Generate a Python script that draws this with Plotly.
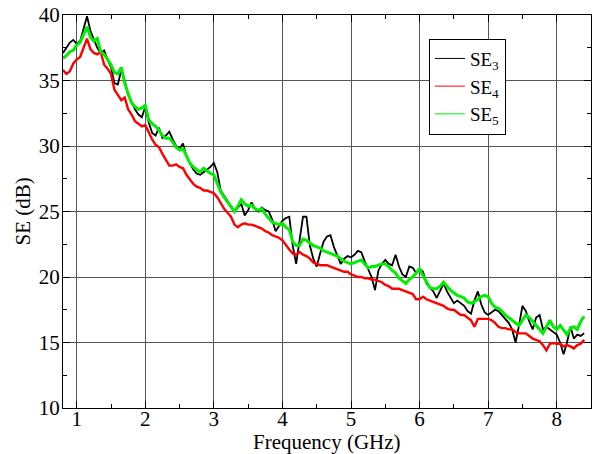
import plotly.graph_objects as go

# Frequency grid (GHz), sampled every 0.05 GHz from 0.80 to 8.40
freq = [round(0.80 + 0.05 * i, 2) for i in range(153)]

se3 = [
    37.1, 37.5, 37.9, 38.1, 37.8, 38.0, 38.9, 39.9, 38.8, 38.2,
    37.5, 37.1, 37.3, 36.6, 36.0, 34.8, 34.7, 35.8, 35.0, 33.9,
    33.3, 32.8, 32.4, 32.2, 33.0, 31.8, 31.0, 30.8, 31.4, 30.6,
    30.8, 31.1, 30.5, 30.0, 29.8, 30.2, 29.2, 28.7, 28.2, 27.9,
    27.8, 28.0, 28.2, 28.4, 28.7, 28.0, 26.6, 26.2, 25.8, 25.4,
    25.0, 25.3, 25.6, 24.7, 25.1, 25.7, 25.2, 25.0, 25.3, 25.1,
    25.0, 24.4, 23.5, 23.9, 24.3, 24.5, 24.6, 22.4, 21.0, 22.8,
    24.6, 24.6, 22.4, 21.4, 20.8, 21.8, 22.7, 23.1, 23.2, 22.3,
    21.6, 21.0, 21.4, 21.6, 21.5, 21.7, 22.0, 21.9, 21.2, 20.6,
    20.0, 19.0, 20.5, 21.0, 21.3, 21.0, 20.9, 21.7, 20.8, 20.2,
    20.0, 20.8, 20.7, 20.3, 20.6, 20.4, 19.5, 19.2, 18.9, 18.4,
    19.0, 19.5, 18.9, 18.5, 18.0, 18.2, 18.0, 17.8, 17.4, 17.2,
    18.2, 18.9, 17.9, 17.3, 17.1, 17.3, 17.5, 17.4, 17.1, 16.8,
    16.5, 16.0, 15.0, 16.3, 17.8, 17.4, 16.6, 16.0, 16.9, 17.1,
    16.0, 16.2, 16.0, 15.8, 15.6, 15.0, 14.1, 15.0, 16.2, 15.3,
    15.6, 15.5, 15.7,
]

se4 = [
    35.8, 35.5, 35.7, 36.3, 36.6, 36.8, 37.5, 38.2, 37.4, 37.1,
    37.0, 37.2, 36.2, 35.9, 35.5, 34.3, 33.9, 33.5, 33.7, 32.8,
    32.4, 31.9, 31.7, 31.5, 31.6, 31.0, 30.5, 30.1, 29.9, 29.4,
    29.0, 28.5, 28.5, 28.6, 28.4, 28.3, 27.8, 27.4, 27.1, 26.9,
    26.8, 26.6, 26.6, 26.5, 26.4, 26.1, 25.6, 25.2, 24.9, 24.6,
    24.0, 23.8, 24.0, 24.1, 24.0, 24.0, 23.9, 23.8, 23.7, 23.5,
    23.4, 23.2, 23.1, 23.0, 22.8, 22.4, 22.1, 21.8, 21.7, 21.9,
    21.7, 21.6, 21.4, 21.1, 21.0, 20.9, 20.9, 20.9, 20.8, 20.7,
    20.6, 20.5, 20.4, 20.4, 20.2, 20.1, 20.0, 20.0, 19.9, 19.9,
    19.8, 19.8, 19.7, 19.6, 19.4, 19.3, 19.1, 19.1, 19.1, 19.0,
    18.9, 18.8, 18.7, 18.3, 18.3, 18.5, 18.3, 18.2, 18.1, 18.0,
    17.9, 17.8, 17.6, 17.5, 17.5, 17.3, 17.1, 17.1, 16.9, 16.7,
    16.2, 16.8, 16.8, 16.8, 16.8, 16.7, 16.5, 16.2, 16.1, 16.1,
    16.0, 16.0, 15.8, 15.7, 15.7, 15.7, 15.5, 15.3, 15.2, 15.1,
    14.8, 14.4, 14.9, 14.95, 14.9, 14.9, 14.7, 14.8, 14.7, 14.55,
    14.8, 14.9, 15.2,
]

se5 = [
    36.7, 36.9, 37.2, 37.3, 37.7, 37.9, 38.5, 39.1, 38.3, 38.0,
    38.2, 37.2, 37.0, 36.6, 36.2, 35.6, 35.5, 36.0, 34.8, 34.0,
    33.3, 33.0, 32.8, 32.9, 33.1, 32.0, 31.7, 31.5, 31.2, 30.8,
    30.6, 30.6, 30.3, 29.9, 29.7, 29.8, 29.2, 28.7, 28.4, 28.2,
    28.0, 28.3, 28.1, 27.9, 27.8, 27.1, 26.5, 26.1, 25.7, 25.4,
    25.0, 25.4, 25.9, 25.6, 25.4, 25.5, 25.2, 25.1, 25.2, 24.8,
    24.5, 24.2, 24.1, 24.0, 24.1, 23.8, 23.6, 22.7, 22.4, 22.4,
    22.9, 22.8, 22.6, 22.4, 22.3, 22.2, 22.0, 21.9, 21.8, 21.7,
    21.6, 21.4, 21.2, 21.1, 21.0, 21.1, 21.2, 21.3, 21.0, 20.7,
    20.8, 20.8, 20.9, 21.0, 21.0, 20.8, 20.5, 20.3, 19.9, 19.7,
    19.5, 19.8, 20.0, 20.3, 20.6, 20.1, 19.7, 19.2, 19.1, 19.1,
    19.3, 19.6, 19.3, 19.0, 18.8, 18.6, 18.5, 18.4, 18.1, 18.0,
    18.1, 18.3, 18.5, 18.6, 18.5, 18.0, 17.7, 17.6, 17.4, 17.1,
    16.9, 16.7, 16.5, 16.3, 16.7, 17.1, 16.9, 16.6, 16.3, 16.0,
    15.7, 16.2, 16.7, 16.2, 16.0, 16.3, 15.9, 15.6, 16.1, 16.2,
    16.0, 16.6, 17.0,
]

series_names = ["SE<sub>3</sub>", "SE<sub>4</sub>", "SE<sub>5</sub>"]
series_values = [se3, se4, se5]
series_colors = ["#000000", "#ff0000", "#00ee00"]
series_widths = [1.8, 2.4, 3]

x_ticks = [1, 2, 3, 4, 5, 6, 7, 8]
y_ticks = [10, 15, 20, 25, 30, 35, 40]

FONT = "Liberation Serif"

fig = go.Figure()
for name, vals, col, w in zip(series_names, series_values, series_colors, series_widths):
    fig.add_trace(go.Scatter(x=freq, y=vals, mode="lines", name=name, showlegend=False,
                             line=dict(color=col, width=w)))
# thin legend-only entries, as in the reference legend
for name, col in zip(series_names, series_colors):
    fig.add_trace(go.Scatter(x=[None], y=[None], mode="lines", name=name, showlegend=True,
                             line=dict(color=col, width=1)))

axis_common = dict(
    showline=True, linecolor="black", linewidth=1, mirror="allticks",
    ticks="inside", ticklen=7, tickcolor="black",
    showgrid=True, gridcolor="#555555", gridwidth=1,
    zeroline=False, automargin=False, ticklabeloverflow="allow",
    tickfont=dict(family=FONT, size=21, color="black"),
)

fig.update_xaxes(
    range=[0.8, 8.5], tickvals=x_ticks, ticklabelstandoff=-8,
    minor=dict(dtick=0.5, tick0=0, ticks="inside", ticklen=4, tickcolor="black", showgrid=False),
    **axis_common,
)
fig.update_yaxes(
    range=[10, 40], tickvals=y_ticks, ticklabelstandoff=-2,
    minor=dict(dtick=2.5, tick0=0, ticks="inside", ticklen=4, tickcolor="black", showgrid=False),
    **axis_common,
)

# axis titles as annotations for exact placement
fig.add_annotation(text="Frequency (GHz)", xref="paper", yref="paper", x=0.5, y=0,
                   yanchor="top", yshift=-20, showarrow=False,
                   font=dict(family=FONT, size=21, color="black"))
fig.add_annotation(text="SE (dB)", xref="paper", yref="paper", x=0, y=0.5,
                   xanchor="center", xshift=-41, textangle=-90, showarrow=False,
                   font=dict(family=FONT, size=21, color="black"))

# The page body adds an 8px offset, so the figure is sized/margined to compensate
fig.update_layout(
    width=592, height=446,
    margin=dict(l=55, r=9, t=7, b=46),
    paper_bgcolor="white", plot_bgcolor="white",
    font=dict(family=FONT),
    showlegend=True,
    legend=dict(
        x=0.693, y=0.94, xanchor="left", yanchor="top",
        bgcolor="white", bordercolor="black", borderwidth=1,
        font=dict(family=FONT, size=19, color="black"),
        itemwidth=30, tracegroupgap=0,
    ),
)

fig.write_html("out.html")
